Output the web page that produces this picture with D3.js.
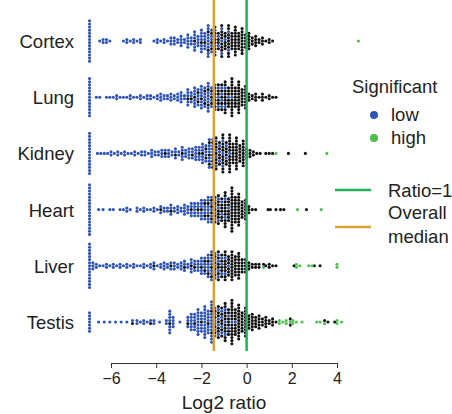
<!DOCTYPE html>
<html>
<head>
<meta charset="utf-8">
<script src="https://cdn.jsdelivr.net/npm/d3@7"></script>
<style>
  body { margin: 0; background: #fff; }
  text { font-family: "Liberation Sans", Arial, Helvetica, sans-serif; fill: #222; }
</style>
</head>
<body>
<div id="chart"></div>
<script>
"use strict";

// tissues, top to bottom
const tissues = ["Cortex", "Lung", "Kidney", "Heart", "Liver", "Testis"];

const cortexLow = [[-6.95,14],[-6.5,1],[-6.35,2],[-6.2,2],[-6.05,1],[-5.45,1],[-5.3,2],[-5.15,1],[-5.0,2],[-4.85,1],[-4.7,2],[-4.1,1],[-3.95,2],[-3.8,1],[-3.65,2],[-3.5,1],[-3.35,3],[-3.2,3],[-3.05,2],[-2.9,4],[-2.75,2],[-2.6,5],[-2.45,3],[-2.3,6],[-2.15,4],[-2.0,7],[-1.85,5],[-1.7,9],[-1.55,5],[-1.4,4],[-1.25,2],[-1.1,3],[-0.95,1],[-0.8,2]];
const cortexNs = [[-2.3,1],[-2.0,1],[-1.85,1],[-1.7,2],[-1.55,3],[-1.4,6],[-1.25,4],[-1.1,8],[-0.95,5],[-0.8,9],[-0.65,6],[-0.5,10],[-0.35,6],[-0.2,9],[-0.05,5],[0.1,6],[0.25,3],[0.4,4],[0.55,2],[0.7,3],[0.85,1],[1.0,2],[1.15,1]];
const cortexHigh = [[4.95,1]];

const lungLow = [[-6.95,13],[-6.65,1],[-6.5,1],[-6.2,1],[-6.05,1],[-5.9,1],[-5.75,2],[-5.6,1],[-5.45,1],[-5.3,1],[-5.15,2],[-5.0,1],[-4.85,1],[-4.7,2],[-4.55,1],[-4.4,2],[-4.25,2],[-4.1,1],[-3.95,2],[-3.8,3],[-3.65,2],[-3.5,2],[-3.35,3],[-3.2,2],[-3.05,3],[-2.9,4],[-2.75,2],[-2.6,5],[-2.45,3],[-2.3,6],[-2.15,4],[-2.0,7],[-1.85,5],[-1.7,8],[-1.55,4],[-1.4,5],[-1.25,3],[-1.1,4],[-0.95,2],[-0.8,1],[-0.65,1]];
const lungNs = [[-2.6,1],[-2.45,1],[-2.3,1],[-2.15,2],[-2.0,1],[-1.85,2],[-1.7,2],[-1.55,3],[-1.4,4],[-1.25,6],[-1.1,5],[-0.95,9],[-0.8,6],[-0.65,12],[-0.5,7],[-0.35,11],[-0.2,6],[-0.05,8],[0.1,3],[0.25,2],[0.4,3],[0.55,1],[0.7,3],[0.85,1],[1.0,2],[1.15,1],[1.3,1]];
const lungHigh = [];

const kidneyLow = [[-6.95,14],[-6.6,1],[-6.45,1],[-6.3,1],[-6.15,1],[-6.0,2],[-5.85,1],[-5.7,2],[-5.55,1],[-5.4,2],[-5.25,1],[-5.1,1],[-4.95,2],[-4.8,1],[-4.65,2],[-4.5,2],[-4.35,1],[-4.2,3],[-4.05,2],[-3.9,2],[-3.75,3],[-3.6,2],[-3.45,3],[-3.3,2],[-3.15,3],[-3.0,2],[-2.85,4],[-2.7,3],[-2.55,4],[-2.4,3],[-2.25,5],[-2.1,4],[-1.95,6],[-1.8,4],[-1.65,7],[-1.5,5],[-1.35,4],[-1.2,3],[-1.05,3],[-0.9,2],[-0.75,1]];
const kidneyNs = [[-3.6,1],[-3.15,1],[-2.85,1],[-2.4,1],[-2.1,1],[-1.95,1],[-1.8,2],[-1.65,3],[-1.5,5],[-1.35,7],[-1.2,5],[-1.05,10],[-0.9,6],[-0.75,12],[-0.6,7],[-0.45,11],[-0.3,6],[-0.15,9],[0.0,4],[0.15,3],[0.3,2],[0.45,1],[0.6,1],[0.85,1],[1.0,1],[1.15,1],[1.85,1],[2.6,1]];
const kidneyHigh = [[1.3,1],[3.55,1]];

const heartLow = [[-6.95,17],[-6.55,1],[-6.35,1],[-6.05,1],[-5.9,1],[-5.6,1],[-5.45,1],[-5.3,2],[-5.15,1],[-4.85,2],[-4.7,1],[-4.55,2],[-4.4,1],[-4.25,1],[-4.1,2],[-3.95,1],[-3.8,2],[-3.65,2],[-3.5,2],[-3.35,3],[-3.2,2],[-3.05,3],[-2.9,2],[-2.75,4],[-2.6,3],[-2.45,4],[-2.3,5],[-2.15,4],[-2.0,6],[-1.85,5],[-1.7,7],[-1.55,5],[-1.4,4],[-1.25,3],[-1.1,2],[-0.95,2],[-0.8,1]];
const heartNs = [[-3.8,1],[-3.35,1],[-2.45,1],[-2.15,1],[-2.0,1],[-1.85,2],[-1.7,2],[-1.55,4],[-1.4,5],[-1.25,7],[-1.1,6],[-0.95,10],[-0.8,7],[-0.65,15],[-0.5,9],[-0.35,11],[-0.2,6],[-0.05,7],[0.1,3],[0.25,1],[0.4,1],[0.95,1],[1.05,1],[1.3,1],[1.5,1],[1.65,1],[2.65,1]];
const heartHigh = [[2.25,1],[3.3,1]];

const liverLow = [[-6.95,15],[-6.8,3],[-6.65,2],[-6.5,1],[-6.35,1],[-6.2,2],[-6.05,1],[-5.9,2],[-5.75,1],[-5.6,2],[-5.45,1],[-5.3,2],[-5.15,1],[-5.0,2],[-4.85,1],[-4.7,1],[-4.55,2],[-4.4,1],[-4.25,2],[-4.1,2],[-3.95,1],[-3.8,2],[-3.65,3],[-3.5,2],[-3.35,2],[-3.2,3],[-3.05,2],[-2.9,3],[-2.75,3],[-2.6,2],[-2.45,4],[-2.3,3],[-2.15,4],[-2.0,5],[-1.85,4],[-1.7,6],[-1.55,7],[-1.4,5],[-1.25,4],[-1.1,3],[-0.95,2],[-0.8,1]];
const liverNs = [[-4.1,1],[-3.35,1],[-2.75,1],[-2.45,1],[-2.3,1],[-2.0,1],[-1.85,2],[-1.7,2],[-1.55,3],[-1.4,4],[-1.25,6],[-1.1,5],[-0.95,8],[-0.8,6],[-0.65,10],[-0.5,7],[-0.35,9],[-0.2,5],[-0.05,5],[0.1,3],[0.25,2],[0.4,2],[0.55,2],[0.7,1],[0.85,1],[1.0,2],[1.15,1],[1.3,1],[2.1,1],[3.0,1],[3.25,1]];
const liverHigh = [[0.8,1],[2.2,2],[2.35,1],[2.75,1],[2.9,1],[4.0,2]];

const testisLow = [[-6.95,7],[-6.55,1],[-6.3,1],[-6.05,1],[-5.8,1],[-5.55,1],[-5.3,1],[-5.05,1],[-4.85,2],[-4.7,1],[-4.55,2],[-4.4,1],[-4.25,1],[-4.1,2],[-3.85,1],[-3.55,2],[-3.4,7],[-3.25,4],[-2.95,1],[-2.6,3],[-2.45,6],[-2.3,5],[-2.15,9],[-2.0,6],[-1.85,11],[-1.7,7],[-1.55,12],[-1.4,6],[-1.25,4],[-1.1,4],[-0.95,3],[-0.8,2],[-0.65,1],[-0.5,1]];
const testisNs = [[-5.05,1],[-4.25,1],[-3.4,1],[-2.6,1],[-2.3,1],[-2.0,1],[-1.7,1],[-1.55,2],[-1.4,4],[-1.25,7],[-1.1,6],[-0.95,10],[-0.8,7],[-0.65,14],[-0.5,8],[-0.35,12],[-0.2,7],[-0.05,10],[0.1,5],[0.25,6],[0.4,4],[0.55,5],[0.7,3],[0.85,4],[1.0,2],[1.15,3],[1.3,1],[1.95,2],[3.5,1],[3.6,1],[3.9,1]];
const testisHigh = [[1.45,2],[1.6,1],[1.75,2],[1.9,1],[2.05,2],[2.2,1],[2.45,1],[3.1,1],[3.25,1],[3.4,1],[4.0,2],[4.2,1]];

const ratioOne = 0;         // log2(1)
const overallMedian = -1.45;
const xTicks = [-6, -4, -2, 0, 2, 4];

const groups = {
  Cortex: { low: cortexLow, ns: cortexNs, high: cortexHigh },
  Lung:   { low: lungLow,   ns: lungNs,   high: lungHigh },
  Kidney: { low: kidneyLow, ns: kidneyNs, high: kidneyHigh },
  Heart:  { low: heartLow,  ns: heartNs,  high: heartHigh },
  Liver:  { low: liverLow,  ns: liverNs,  high: liverHigh },
  Testis: { low: testisLow, ns: testisNs, high: testisHigh }
};

const colors = { low: "#2e54b8", ns: "#111111", high: "#4cc04c" };
const greenLine = "#1fb05c";
const orangeLine = "#d9a233";

const width = 452;
const height = 414;
const dotR = 1.55;
const colW = 3.4;   // column spacing in px
const rowH = 3.1;   // vertical step in a column

const svg = d3.select("#chart")
  .append("svg")
  .attr("width", width)
  .attr("height", height);

const xScale = d3.scaleLinear()
  .domain([-6, 4])
  .range([111, 337]);

const yScale = d3.scalePoint()
  .domain(tissues)
  .range([41, 322]);

// tissue labels
svg.selectAll(".tissue")
  .data(tissues)
  .enter()
  .append("text")
  .attr("class", "tissue")
  .attr("x", 74)
  .attr("y", d => yScale(d) + 7)
  .attr("text-anchor", "end")
  .style("font-size", "18.5px")
  .text(d => d);

// swarm: stack points falling in the same pixel column
const dots = [];
for (const t of tissues) {
  const cols = new Map();
  for (const g of ["low", "ns", "high"]) {
    for (const [v, n] of groups[t][g]) {
      const key = Math.round((xScale(v) - xScale(0)) / colW);
      if (!cols.has(key)) cols.set(key, []);
      for (let j = 0; j < n; j++) cols.get(key).push({ v, g, j, n });
    }
  }
  for (const pts of cols.values()) {
    pts.sort((a, b) => (a.j + 0.5) / a.n - (b.j + 0.5) / b.n);
    const cx = xScale(d3.mean(pts, p => p.v));
    pts.forEach((p, i) => {
      dots.push({
        g: p.g,
        x: cx,
        y: yScale(t) + (i - (pts.length - 1) / 2) * rowH
      });
    });
  }
}

svg.append("g")
  .selectAll("circle")
  .data(dots)
  .enter()
  .append("circle")
  .attr("cx", d => d.x)
  .attr("cy", d => d.y)
  .attr("r", dotR)
  .attr("fill", d => colors[d.g]);

// reference lines
svg.append("line")
  .attr("x1", xScale(overallMedian)).attr("x2", xScale(overallMedian))
  .attr("y1", 0).attr("y2", 351)
  .attr("stroke", orangeLine)
  .attr("stroke-width", 2.5);

svg.append("line")
  .attr("x1", xScale(ratioOne)).attr("x2", xScale(ratioOne))
  .attr("y1", 0).attr("y2", 351)
  .attr("stroke", greenLine)
  .attr("stroke-width", 2.5);

// x axis
const xAxis = d3.axisBottom(xScale)
  .tickValues(xTicks)
  .tickSize(5)
  .tickSizeOuter(0);

const axisG = svg.append("g")
  .attr("transform", "translate(0, 363)")
  .call(xAxis);
axisG.select(".domain").attr("stroke", "#333");
axisG.selectAll(".tick line").attr("stroke", "#333");
axisG.selectAll(".tick text")
  .attr("y", 10)
  .style("font-size", "16px")
  .style("font-family", "'Liberation Sans', Arial, sans-serif")
  .attr("fill", "#222");

svg.append("text")
  .attr("x", xScale(-1))
  .attr("y", 409)
  .attr("text-anchor", "middle")
  .style("font-size", "19px")
  .text("Log2 ratio");

// legend
const legend = svg.append("g");
legend.append("text")
  .attr("x", 352).attr("y", 93)
  .style("font-size", "18.5px")
  .text("Significant");

const sigItems = [["low", "low"], ["high", "high"]];
legend.selectAll(".sig")
  .data(sigItems)
  .enter()
  .append("circle")
  .attr("cx", 374)
  .attr("cy", (d, i) => 115 + i * 23)
  .attr("r", 4)
  .attr("fill", d => colors[d[0]]);
legend.selectAll(".sigtxt")
  .data(sigItems)
  .enter()
  .append("text")
  .attr("x", 391)
  .attr("y", (d, i) => 121 + i * 23)
  .style("font-size", "18.5px")
  .text(d => d[1]);

legend.append("line")
  .attr("x1", 335).attr("x2", 371)
  .attr("y1", 190).attr("y2", 190)
  .attr("stroke", greenLine).attr("stroke-width", 2.5);
legend.append("text")
  .attr("x", 388).attr("y", 197)
  .style("font-size", "18.5px")
  .text("Ratio=1");

legend.append("line")
  .attr("x1", 335).attr("x2", 371)
  .attr("y1", 227).attr("y2", 227)
  .attr("stroke", orangeLine).attr("stroke-width", 2.5);
legend.append("text")
  .attr("x", 388).attr("y", 219)
  .style("font-size", "18.5px")
  .text("Overall");
legend.append("text")
  .attr("x", 388).attr("y", 243)
  .style("font-size", "18.5px")
  .text("median");
</script>
</body>
</html>
